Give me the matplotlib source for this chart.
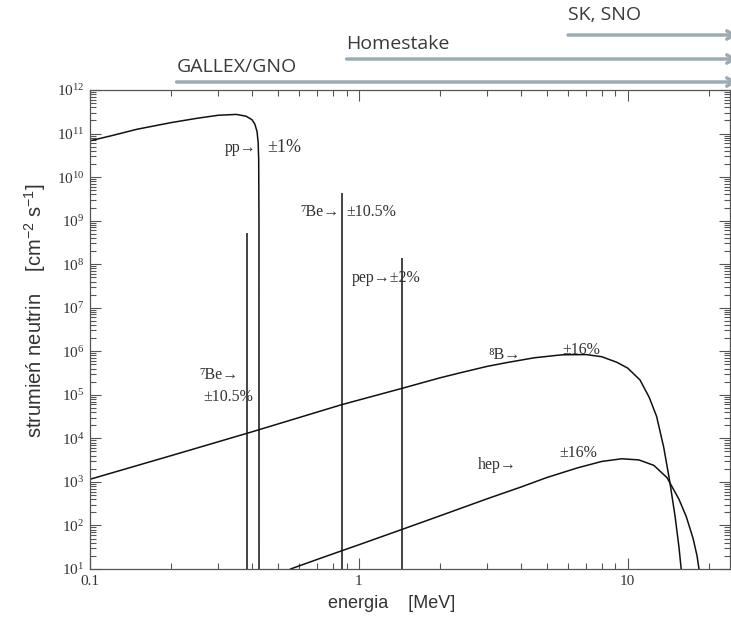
import numpy as np
import matplotlib
matplotlib.use("Agg")
import matplotlib.pyplot as plt
import matplotlib.ticker as mticker
import matplotlib.transforms as mtransforms

plt.rcParams['mathtext.default'] = 'regular'

# widmo pp (MeV, strumien)
pp_e = [0.1, 0.12, 0.15, 0.2, 0.25, 0.3, 0.35, 0.38, 0.40, 0.41, 0.418, 0.422, 0.424, 0.425, 0.4252]
pp_f = [6.8e10, 8.9e10, 1.26e11, 1.78e11, 2.24e11, 2.63e11, 2.75e11, 2.51e11, 2.09e11,
        1.66e11, 1.12e11, 6.3e10, 2.5e10, 1.0e9, 10]

# widmo 8B
b8_e = [0.1, 0.2, 0.4, 0.86, 1.0, 1.43, 2.0, 2.38, 3.0, 3.55, 4.5, 5.7, 7.0, 8.0, 9.1, 10.0,
        11.1, 12.0, 12.8, 13.6, 14.3, 15.0, 15.5, 15.8]
b8_f = [1.15e3, 4.0e3, 1.41e4, 5.9e4, 7.6e4, 1.38e5, 2.45e5, 3.2e5, 4.5e5, 5.5e5, 7.1e5,
        8.3e5, 8.4e5, 7.5e5, 5.6e5, 4.1e5, 2.2e5, 8.9e4, 3.2e4, 6.3e3, 1.1e3, 1.6e2, 32, 10]

# widmo hep
hep_e = [0.557, 0.7, 0.86, 1.0, 1.43, 2.0, 3.0, 4.0, 5.0, 6.5, 8.0, 9.5, 11.0, 12.5, 14.0,
         15.5, 16.5, 17.5, 18.1, 18.4]
hep_f = [10, 16.6, 26, 36, 79, 1.66e2, 4.1e2, 7.6e2, 1.26e3, 2.1e3, 2.95e3, 3.4e3, 3.2e3,
         2.4e3, 1.25e3, 4.0e2, 1.6e2, 50, 20, 10]

# linie monoenergetyczne
line_e = [0.384, 0.862, 1.442]
line_f = [5.2e8, 4.3e9, 1.4e8]

# progi detektorow
det_names = ["GALLEX/GNO", "Homestake", "SK, SNO"]
det_thr = [0.21, 0.9, 6.0]

W, H = 731, 617
fig = plt.figure(figsize=(W / 100, H / 100), dpi=100)
ax = fig.add_axes([90 / W, 1 - 569 / H, 640 / W, 479 / H])

lc = '#111111'
ax.plot(pp_e, pp_f, color=lc, lw=1.1)
ax.plot(b8_e, b8_f, color=lc, lw=1.1)
ax.plot(hep_e, hep_f, color=lc, lw=1.1)
ax.vlines(line_e, 10, line_f, color=lc, lw=1.1)

ax.set_xscale('log')
ax.set_yscale('log')
ax.set_xlim(0.1, 24)
ax.set_ylim(10, 1e12)

serif = ['Liberation Serif', 'DejaVu Serif']
sans = ['Liberation Sans', 'DejaVu Sans']
tc = '#333333'

ax.yaxis.set_major_locator(mticker.LogLocator(base=10, numticks=20))
ax.yaxis.set_minor_locator(mticker.LogLocator(base=10, subs=np.arange(2, 10), numticks=20))
ax.yaxis.set_minor_formatter(mticker.NullFormatter())
ax.yaxis.set_major_formatter(mticker.FuncFormatter(lambda v, p: '$10^{%d}$' % round(np.log10(v))))
ax.xaxis.set_major_formatter(mticker.FuncFormatter(lambda v, p: ('%g' % v)))
ax.xaxis.set_minor_formatter(mticker.NullFormatter())

ax.tick_params(which='both', direction='in', top=True, right=True, colors='#555555',
               labelcolor=tc, width=0.8)
ax.tick_params(which='major', length=8, labelsize=11, pad=4)
ax.tick_params(which='minor', length=4)
for lab in ax.get_xticklabels() + ax.get_yticklabels():
    lab.set_family(serif)
for s in ax.spines.values():
    s.set_color('#555555')
    s.set_linewidth(0.9)

ax.set_xlabel('energia    [MeV]', family=sans, fontsize=13, color=tc)
ax.xaxis.set_label_coords(0.472, -0.054)
ax.set_ylabel('strumień neutrin    [cm$^{-2}$ s$^{-1}$]', family=sans, fontsize=14.5, color=tc)
ax.yaxis.set_label_coords(-0.066, 0.54)

# opisy widm
fs = 11.5
notes = [
    ("pp→", 0.318, 4.7e10, fs),
    ("±1%", 0.455, 4.7e10, 13),
    ("⁷Be→", 0.604, 1.6e9, fs),
    ("±10.5%", 0.90, 1.6e9, fs),
    ("pep→±2%", 0.94, 4.8e7, fs),
    ("⁷Be→", 0.256, 2.9e5, fs),
    ("±10.5%", 0.263, 9.0e4, fs),
    ("⁸B→", 3.02, 8.3e5, fs),
    ("±16%", 5.69, 1.07e6, fs),
    ("hep→", 2.77, 2.45e3, fs),
    ("±16%", 5.58, 4.6e3, fs),
]
for txt, xe, yf, size in notes:
    ax.text(xe, yf, txt, family=serif, fontsize=size, color=tc, ha='left', va='center')

# strzalki progow detektorow
trans = mtransforms.blended_transform_factory(ax.transData, fig.transFigure)
arrow_y = [1 - 82 / H, 1 - 59 / H, 1 - 35 / H]
text_y = [1 - 67 / H, 1 - 44 / H, 1 - 15 / H]
for name, thr, ay, ty in zip(det_names, det_thr, arrow_y, text_y):
    ax.annotate('', xy=(25.5, ay), xytext=(thr, ay), xycoords=trans, textcoords=trans,
                annotation_clip=False,
                arrowprops=dict(arrowstyle='->,head_length=0.5,head_width=0.3',
                                color='#9dabb4', lw=2.5, shrinkA=0, shrinkB=0))
    ax.text(thr, ty, name, transform=trans, family=['Open Sans', 'DejaVu Sans'],
            fontsize=14, color='#3a3a3a', ha='left', va='center')

fig.savefig('out.png', dpi=100)
